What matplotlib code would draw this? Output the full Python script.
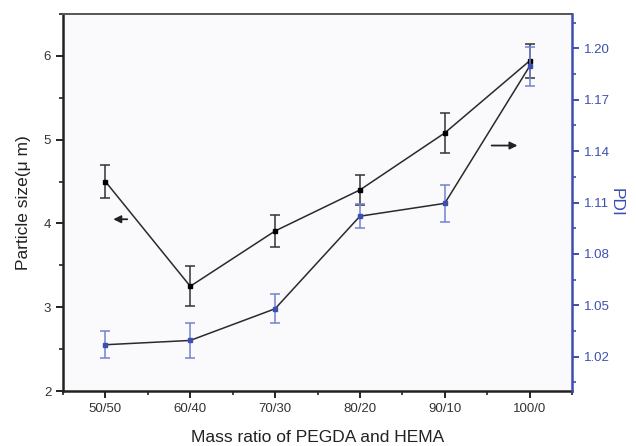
import matplotlib
matplotlib.use("Agg")
import matplotlib.pyplot as plt
from matplotlib.ticker import MultipleLocator

plt.rcParams['font.family'] = ['Liberation Sans', 'DejaVu Sans']

categories = ["50/50", "60/40", "70/30", "80/20", "90/10", "100/0"]
size_vals = [4.50, 3.25, 3.91, 4.40, 5.08, 5.94]
size_err = [0.20, 0.24, 0.19, 0.18, 0.24, 0.20]
pdi_vals = [1.027, 1.0295, 1.048, 1.102, 1.1095, 1.1895]
pdi_err = [0.008, 0.010, 0.0085, 0.007, 0.011, 0.0115]

W, H = 636, 446
fig = plt.figure(figsize=(W / 100, H / 100), dpi=100)
ax = fig.add_axes([63 / W, (H - 391) / H, (572 - 63) / W, (391 - 14) / H])
ax.set_facecolor('#fafafc')
ax2 = ax.twinx()

x = list(range(1, len(categories) + 1))
blue = '#3c4fb0'
blue_light = '#7383d0'

ax.errorbar(x, size_vals, yerr=size_err, color='#2a2a2a', lw=1.1, marker='s',
            ms=3.5, mfc='black', mec='black', ecolor='#333333', elinewidth=1.1,
            capsize=3.5, capthick=1.1, zorder=3)
ax2.errorbar(x, pdi_vals, yerr=pdi_err, color='#2a2a2a', lw=1.1, marker='s',
             ms=3, mfc=blue, mec=blue, ecolor=blue_light, elinewidth=1.1,
             capsize=3.5, capthick=1.1, zorder=3)

ax.set_xlim(0.5, 6.5)
ax.set_ylim(2, 6.5)
ax2.set_ylim(1.00, 1.22)

ax.set_xticks(x)
ax.set_xticklabels(categories)
ax.xaxis.set_minor_locator(MultipleLocator(0.5))
ax.yaxis.set_major_locator(MultipleLocator(1))
ax.yaxis.set_minor_locator(MultipleLocator(0.5))
ax2.set_yticks([1.02, 1.05, 1.08, 1.11, 1.14, 1.17, 1.20])
ax2.set_yticks([1.005, 1.035, 1.065, 1.095, 1.125, 1.155, 1.185, 1.215], minor=True)
ax2.set_yticklabels(["1.02", "1.05", "1.08", "1.11", "1.14", "1.17", "1.20"])

ax.tick_params(axis='both', which='major', direction='out', length=5, width=1.4,
               labelsize=9.5, color='#222222', labelcolor='#333333')
ax.tick_params(axis='both', which='minor', direction='out', length=3, width=1.2, color='#222222')
ax.tick_params(axis='x', which='both', top=False)
ax2.tick_params(axis='y', which='major', direction='out', length=5, width=1.4,
                labelsize=9.5, color=blue, labelcolor=blue)
ax2.tick_params(axis='y', which='minor', direction='out', length=3, width=1.2, color=blue)

for s in ['left', 'bottom']:
    ax.spines[s].set_linewidth(1.8)
    ax.spines[s].set_color('#222222')
ax.spines['top'].set_linewidth(1.4)
ax.spines['top'].set_color('#555555')
ax2.spines['right'].set_color(blue)
ax2.spines['right'].set_linewidth(1.8)
ax2.spines['left'].set_visible(False)
ax2.spines['top'].set_visible(False)
ax2.spines['bottom'].set_visible(False)
ax.spines['right'].set_visible(False)

ax.set_xlabel("Mass ratio of PEGDA and HEMA", fontsize=12.5, color='#222222', labelpad=11)
ax.set_ylabel("Particle size(\u03bc m)", fontsize=12.5, color='#222222', labelpad=9)
ax2.set_ylabel("PDI", fontsize=12.5, color=blue, rotation=270, labelpad=10)

ax.annotate("", xy=(1.06, 4.05), xytext=(1.29, 4.05),
            arrowprops=dict(arrowstyle='-|>', color='#222222', lw=1.3, mutation_scale=11))
ax.annotate("", xy=(5.89, 4.93), xytext=(5.52, 4.93),
            arrowprops=dict(arrowstyle='-|>', color='#222222', lw=1.3, mutation_scale=11))

fig.savefig("out.png", dpi=100, facecolor='white')
